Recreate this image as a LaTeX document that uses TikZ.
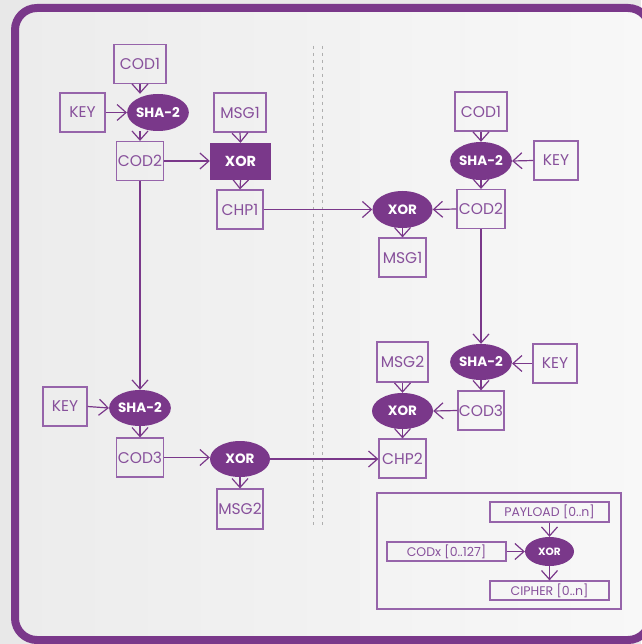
\documentclass[tikz,border=0pt]{standalone}
\usepackage{fontspec}
\setmainfont{Poppins}
\usetikzlibrary{arrows.meta,shapes.geometric}
\definecolor{pmain}{RGB}{122,56,138}
\definecolor{pline}{RGB}{150,100,170}
\definecolor{ptext}{RGB}{135,80,155}
\definecolor{bgout}{RGB}{232,232,232}
\definecolor{bgA}{RGB}{236,236,236}
\definecolor{bgB}{RGB}{248,248,248}
\definecolor{dashgray}{RGB}{175,175,175}
\tikzset{
  box/.style={draw=pline, line width=1.2pt, fill=none, text=ptext, inner sep=0pt,
    font=\fontsize{15.5}{15.5}\selectfont},
  oval/.style={ellipse, fill=pmain, draw=none, text=white, inner sep=0pt,
    font=\fontsize{13.5}{13.5}\selectfont\bfseries},
  fbox/.style={rectangle, fill=pmain, draw=none, text=white, inner sep=0pt,
    font=\fontsize{14.5}{14.5}\selectfont\bfseries},
  lbox/.style={draw=pline, line width=1.2pt, text=ptext, inner sep=0pt,
    font=\fontsize{12.5}{12.5}\selectfont},
  conn/.style={draw=pmain, line width=1.2pt, -{Straight Barb[length=9pt,width=16pt,line width=1.2pt]}},
  plain/.style={draw=pmain, line width=1.2pt}
}
\begin{document}
\begin{tikzpicture}[x=1pt,y=-1pt]
\useasboundingbox (0,0) rectangle (641,644);
\fill[bgout] (0,0) rectangle (641,644);
\shade[left color=bgA, right color=bgB, rounded corners=22pt] (15,8) rectangle (650,640);
\draw[pmain, line width=8pt, rounded corners=22pt] (15,8) rectangle (650,640);
% dashed dividers
\draw[dashgray, line width=1pt, dash pattern=on 3pt off 4pt] (313,46) -- (313,528);
\draw[dashgray, line width=1pt, dash pattern=on 3pt off 4pt] (322,46) -- (322,528);
% left side
\node[box, minimum width=52pt, minimum height=39pt] (cod1L) at (140,64) {COD1};
\node[box, minimum width=45pt, minimum height=39pt] (keyL) at (82.5,112.5) {KEY};
\node[oval, minimum width=60pt, minimum height=37pt] (shaL) at (158,112.5) {SHA-2};
\node[box, minimum width=52pt, minimum height=39pt] (msg1L) at (240,112.5) {MSG1};
\node[fbox, minimum width=61pt, minimum height=37pt] (xorL) at (240.5,161.5) {XOR};
\node[box, minimum width=47pt, minimum height=39pt] (cod2L) at (140,161) {COD2};
\node[box, minimum width=46pt, minimum height=39pt] (chp1L) at (240,209.5) {CHP1};
\node[box, minimum width=44pt, minimum height=39pt] (keyL2) at (65,406.5) {KEY};
\node[oval, minimum width=60pt, minimum height=36pt] (shaL2) at (140,408) {SHA-2};
\node[box, minimum width=47pt, minimum height=39pt] (cod3L) at (140,457.5) {COD3};
\node[oval, minimum width=60pt, minimum height=36pt] (xorL2) at (240,459) {XOR};
\node[box, minimum width=46pt, minimum height=40pt] (msg2L) at (240,509) {MSG2};
% right side
\node[box, minimum width=52pt, minimum height=39pt] (cod1R) at (481,111.5) {COD1};
\node[oval, minimum width=61pt, minimum height=38pt] (shaR) at (481,161) {SHA-2};
\node[box, minimum width=44pt, minimum height=39pt] (keyR) at (556,160.5) {KEY};
\node[box, minimum width=48pt, minimum height=39pt] (cod2R) at (481,209) {COD2};
\node[oval, minimum width=60pt, minimum height=37pt] (xorR) at (402.5,209.5) {XOR};
\node[box, minimum width=47pt, minimum height=39pt] (msg1R) at (402.5,257.5) {MSG1};
\node[box, minimum width=51pt, minimum height=40pt] (msg2R) at (402.5,362) {MSG2};
\node[oval, minimum width=59pt, minimum height=36pt] (shaR2) at (481,362) {SHA-2};
\node[box, minimum width=44pt, minimum height=39pt] (keyR2) at (555,363.5) {KEY};
\node[oval, minimum width=61pt, minimum height=36pt] (xorR2) at (402.5,411) {XOR};
\node[box, minimum width=46pt, minimum height=39pt] (cod3R) at (481,410.5) {COD3};
\node[box, minimum width=47pt, minimum height=39pt] (chp2R) at (402.5,458.5) {CHP2};
% legend
\node[draw=pline, line width=1.2pt, minimum width=244pt, minimum height=116pt, inner sep=0pt] (legend) at (499,551) {};
\node[lbox, minimum width=119pt, minimum height=20pt] (payload) at (549.5,512) {PAYLOAD [0..n]};
\node[oval, minimum width=49pt, minimum height=29pt, font=\fontsize{10.5}{10.5}\selectfont\bfseries] (xorS) at (549.5,551.5) {XOR};
\node[lbox, minimum width=119pt, minimum height=19pt] (codx) at (446.5,551.5) {CODx [0..127]};
\node[lbox, minimum width=119pt, minimum height=19pt] (cipher) at (549.5,590.5) {CIPHER [0..n]};
% connectors left
\draw[conn] (cod1L.south) -- (cod1L.south |- shaL.north);
\draw[conn] (keyL.east) -- (shaL.west);
\draw[conn] (cod2L.north |- shaL.south) -- (cod2L.north);
\draw[conn] (msg1L.south) -- (xorL.north);
\draw[conn] (cod2L.east) -- (cod2L.east -| xorL.west);
\draw[conn] (xorL.south) -- (chp1L.north);
\draw[conn] (chp1L.east) -- (xorR.west);
\draw[conn] (cod2L.south) -- (shaL2.north);
\draw[conn] (keyL2.east) -- (shaL2.west);
\draw[conn] (shaL2.south) -- (cod3L.north);
\draw[conn] (cod3L.east) -- (cod3L.east -| xorL2.west);
\draw[conn] (xorL2.south) -- (msg2L.north);
\draw[conn] (xorL2.east) -- (xorL2.east -| chp2R.west);
% connectors right
\draw[conn] (cod1R.south) -- (shaR.north);
\draw[conn] (keyR.west) -- (shaR.east);
\draw[conn] (shaR.south) -- (cod2R.north);
\draw[conn] (cod2R.west) -- (xorR.east);
\draw[conn] (xorR.south) -- (msg1R.north);
\draw[conn] (cod2R.south) -- (shaR2.north);
\draw[conn] (keyR2.west) -- (keyR2.west -| shaR2.east);
\draw[conn] (shaR2.south) -- (cod3R.north);
\draw[conn] (msg2R.south) -- (xorR2.north);
\draw[conn] (cod3R.west) -- (xorR2.east);
\draw[conn] (xorR2.south) -- (chp2R.north);
% legend connectors
\draw[conn] (payload.south) -- (xorS.north);
\draw[conn] (codx.east) -- (xorS.west);
\draw[conn] (xorS.south) -- (cipher.north);
\end{tikzpicture}
\end{document}
